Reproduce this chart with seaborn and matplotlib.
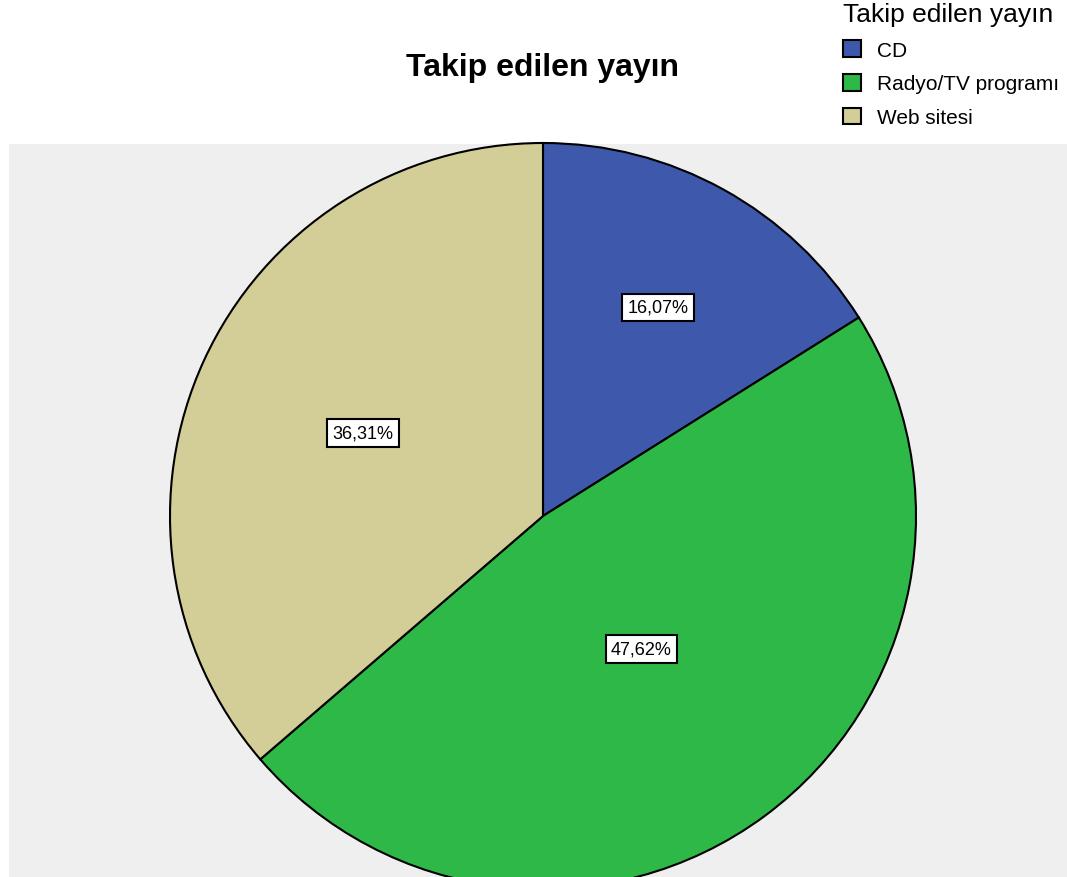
import numpy as np
import matplotlib
matplotlib.use("Agg")
import matplotlib.pyplot as plt
from matplotlib.patches import Patch
import seaborn as sns

# Share of each followed publication type (percent)
categories = ["CD", "Radyo/TV programı", "Web sitesi"]
shares = [16.07, 47.62, 36.31]
labels = ["16,07%", "47,62%", "36,31%"]
title = "Takip edilen yayın"

sns.set_style("white")
plt.rcParams["font.family"] = ["Liberation Sans", "DejaVu Sans"]
plt.rcParams["text.color"] = "black"
plt.rcParams["legend.labelcolor"] = "black"

colors = ["#3E58AC", "#2EB848", "#D3CE97"]

W, H = 1067, 878
fig = plt.figure(figsize=(W / 100, H / 100), dpi=100)
fig.patch.set_facecolor("white")

# Panel in pixel units (y measured upward from figure bottom)
left, top = 9, 145
ax = fig.add_axes([left / W, 0, (W - left) / W, (H - top) / H])
ax.set_facecolor("#EFEFEF")

cx, cy, r = 543, H - 517, 373
wedges, _ = ax.pie(
    shares, colors=colors, startangle=90, counterclock=False,
    center=(cx, cy), radius=r, frame=True,
    wedgeprops=dict(edgecolor="black", linewidth=1.5),
)
ax.set_xlim(left, W)
ax.set_ylim(0, H - top)
ax.set_aspect("equal")
ax.set_xticks([])
ax.set_yticks([])
for s in ax.spines.values():
    s.set_visible(False)

# Percent labels at the centroid of each sector
for w, lab in zip(wedges, labels):
    th1, th2 = np.radians(w.theta1), np.radians(w.theta2)
    half = (th2 - th1) / 2
    mid = (th1 + th2) / 2
    d = (2 / 3) * r * np.sin(half) / half
    ax.text(cx + d * np.cos(mid), cy + d * np.sin(mid), lab,
            ha="center", va="center", fontsize=13, color="black",
            bbox=dict(boxstyle="square,pad=0.3", fc="white", ec="black", lw=1.5))

fig.text(543 / W, 1 - 68 / H, title, ha="center", va="center",
         fontsize=23, fontweight="bold", color="black")

handles = [Patch(facecolor=c, edgecolor="black", linewidth=1.5) for c in colors]
leg = fig.legend(handles, categories, title=title, loc="upper right",
                 bbox_to_anchor=(1.0 - 6 / W, 1.0 - 1 / H), frameon=False,
                 fontsize=15, title_fontsize=19, alignment="left",
                 handlelength=0.85, handleheight=0.85, handletextpad=0.75,
                 labelspacing=0.68, borderaxespad=0.0, borderpad=0.1)
leg.get_title().set_color("black")

fig.savefig("out.png", dpi=100)
